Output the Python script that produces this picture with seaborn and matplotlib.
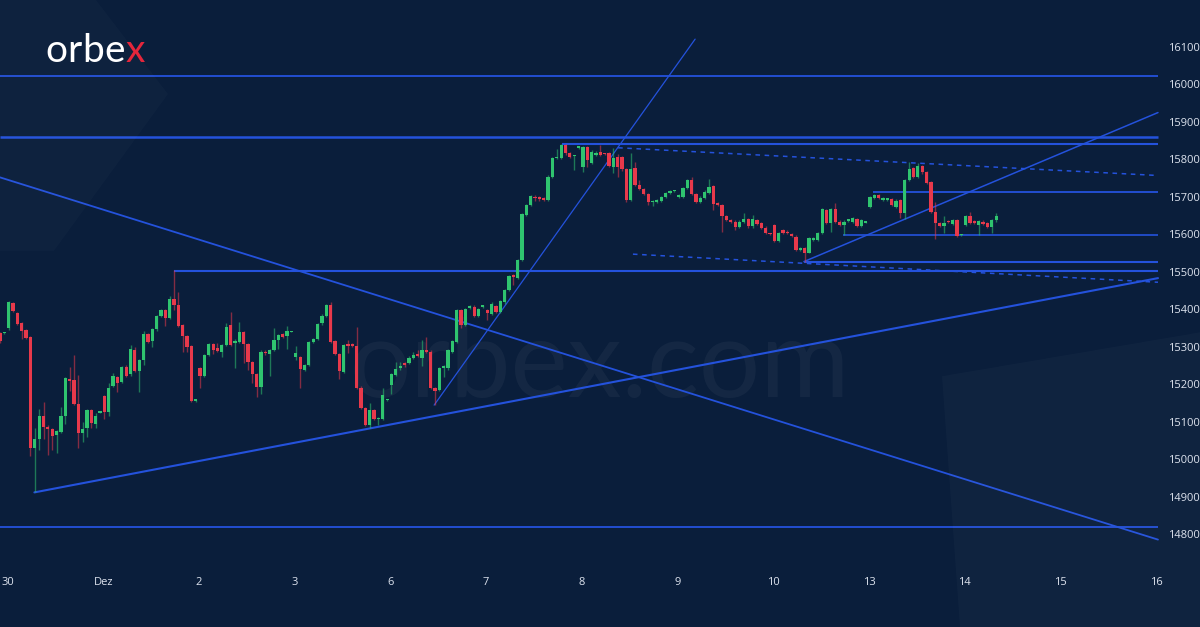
import numpy as np
import pandas as pd
import seaborn as sns
import matplotlib
matplotlib.use("Agg")
from matplotlib import pyplot as plt
from matplotlib.patches import Polygon

# hourly candles, GER index, 30 Nov - 14 Dec
opens = [
    15336, 15336, 15349, 15417, 15389, 15362, 15345, 15325, 15030, 15053,
    15115, 15086, 15079, 15064, 15073, 15114, 15214, 15211, 15147, 15069,
    15084, 15131, 15093, 15124, 15168, 15126, 15195, 15218, 15207, 15247,
    15226, 15291, 15234, 15264, 15334, 15316, 15346, 15382, 15398, 15376,
    15426, 15411, 15358, 15329, 15302, 15155, 15242, 15222, 15278, 15307,
    15296, 15287, 15304, 15357, 15309, 15313, 15338, 15307, 15260, 15226,
    15193, 15287, 15280, 15291, 15318, 15333, 15329, 15339, 15273, 15273,
    15238, 15251, 15312, 15320, 15362, 15382, 15411, 15316, 15280, 15232,
    15305, 15306, 15302, 15191, 15135, 15091, 15131, 15106, 15107, 15157,
    15198, 15224, 15242, 15256, 15257, 15271, 15280, 15271, 15290, 15287,
    15190, 15184, 15244, 15242, 15287, 15313, 15398, 15358, 15404, 15407,
    15382, 15406, 15398, 15387, 15409, 15393, 15418, 15452, 15491, 15484,
    15532, 15652, 15678, 15700, 15699, 15696, 15692, 15754, 15803, 15804,
    15838, 15816, 15808, 15831, 15780, 15832, 15790, 15812, 15821, 15816,
    15816, 15780, 15806, 15806, 15773, 15692, 15776, 15732, 15720, 15708,
    15686, 15687, 15689, 15700, 15711, 15715, 15700, 15700, 15723, 15745,
    15707, 15687, 15696, 15711, 15729, 15683, 15678, 15649, 15638, 15634,
    15619, 15634, 15640, 15621, 15638, 15629, 15618, 15602, 15625, 15583,
    15611, 15607, 15601, 15594, 15558, 15564, 15551, 15585, 15585, 15604,
    15665, 15631, 15667, 15634, 15625, 15636, 15634, 15640, 15623, 15631,
    15672, 15698, 15705, 15692, 15692, 15693, 15674, 15692, 15656, 15745,
    15776, 15754, 15781, 15767, 15739, 15660, 15631, 15622, 15634, 15627,
    15638, 15597, 15625, 15649, 15636, 15625, 15634, 15631, 15619, 15637,
]
highs = [
    15340, 15339, 15423, 15420, 15392, 15365, 15348, 15328, 15084, 15134,
    15153, 15090, 15082, 15078, 15138, 15220, 15246, 15278, 15224, 15100,
    15134, 15134, 15124, 15128, 15172, 15202, 15229, 15221, 15249, 15250,
    15305, 15298, 15267, 15343, 15337, 15349, 15385, 15401, 15401, 15434,
    15505, 15447, 15361, 15332, 15305, 15158, 15245, 15281, 15310, 15310,
    15309, 15307, 15362, 15392, 15320, 15367, 15341, 15310, 15263, 15229,
    15290, 15290, 15294, 15349, 15334, 15336, 15354, 15342, 15301, 15276,
    15254, 15316, 15323, 15364, 15386, 15414, 15420, 15319, 15283, 15307,
    15318, 15309, 15352, 15194, 15138, 15149, 15134, 15112, 15189, 15160,
    15231, 15260, 15260, 15259, 15274, 15287, 15290, 15318, 15327, 15290,
    15193, 15245, 15251, 15293, 15318, 15401, 15401, 15404, 15412, 15410,
    15404, 15410, 15401, 15418, 15412, 15424, 15455, 15492, 15494, 15535,
    15656, 15681, 15706, 15705, 15703, 15699, 15757, 15807, 15827, 15841,
    15841, 15819, 15813, 15835, 15835, 15835, 15824, 15822, 15838, 15818,
    15819, 15830, 15815, 15809, 15776, 15816, 15794, 15745, 15723, 15711,
    15692, 15695, 15703, 15714, 15719, 15719, 15708, 15726, 15748, 15752,
    15710, 15701, 15717, 15747, 15732, 15686, 15681, 15652, 15641, 15637,
    15637, 15656, 15643, 15651, 15641, 15632, 15621, 15604, 15628, 15607,
    15614, 15612, 15604, 15597, 15566, 15567, 15592, 15594, 15607, 15670,
    15668, 15670, 15684, 15637, 15637, 15640, 15646, 15643, 15641, 15633,
    15703, 15708, 15708, 15699, 15696, 15696, 15693, 15695, 15748, 15794,
    15779, 15790, 15784, 15770, 15742, 15687, 15634, 15649, 15637, 15641,
    15641, 15600, 15652, 15660, 15639, 15639, 15637, 15634, 15641, 15656,
]
lows = [
    15310, 15335, 15345, 15392, 15358, 15320, 15320, 15007, 14911, 15025,
    15053, 15011, 15024, 15017, 15070, 15093, 15181, 15145, 15030, 15046,
    15060, 15083, 15083, 15122, 15106, 15114, 15192, 15180, 15204, 15219,
    15223, 15232, 15180, 15251, 15310, 15298, 15343, 15379, 15355, 15373,
    15398, 15353, 15287, 15287, 15152, 15153, 15189, 15219, 15275, 15280,
    15286, 15272, 15301, 15301, 15242, 15310, 15256, 15238, 15202, 15166,
    15173, 15279, 15222, 15288, 15293, 15322, 15293, 15338, 15264, 15191,
    15235, 15248, 15309, 15317, 15359, 15379, 15310, 15277, 15213, 15229,
    15283, 15299, 15186, 15134, 15088, 15082, 15103, 15091, 15104, 15156,
    15175, 15221, 15239, 15247, 15254, 15268, 15272, 15249, 15284, 15186,
    15144, 15181, 15220, 15239, 15284, 15310, 15349, 15355, 15401, 15379,
    15379, 15404, 15371, 15384, 15390, 15390, 15415, 15449, 15465, 15481,
    15529, 15649, 15675, 15690, 15690, 15689, 15689, 15751, 15800, 15801,
    15813, 15804, 15772, 15829, 15767, 15780, 15787, 15808, 15809, 15812,
    15779, 15763, 15754, 15770, 15687, 15689, 15729, 15717, 15705, 15678,
    15676, 15684, 15686, 15697, 15708, 15713, 15697, 15697, 15720, 15704,
    15684, 15684, 15693, 15708, 15665, 15675, 15607, 15635, 15631, 15611,
    15616, 15631, 15618, 15618, 15624, 15613, 15600, 15598, 15580, 15580,
    15601, 15600, 15593, 15555, 15555, 15527, 15549, 15582, 15582, 15601,
    15628, 15607, 15631, 15622, 15598, 15634, 15631, 15620, 15620, 15630,
    15669, 15695, 15693, 15689, 15690, 15675, 15671, 15643, 15640, 15742,
    15751, 15751, 15762, 15735, 15657, 15587, 15619, 15603, 15630, 15624,
    15592, 15596, 15622, 15628, 15628, 15598, 15624, 15616, 15603, 15634,
]
closes = [
    15315, 15338, 15418, 15395, 15360, 15342, 15324, 15030, 15053, 15115,
    15086, 15079, 15062, 15075, 15114, 15216, 15209, 15147, 15070, 15080,
    15131, 15095, 15115, 15126, 15126, 15191, 15222, 15202, 15245, 15222,
    15293, 15235, 15264, 15334, 15313, 15346, 15382, 15398, 15376, 15427,
    15411, 15356, 15329, 15298, 15155, 15156, 15222, 15278, 15307, 15291,
    15289, 15304, 15353, 15304, 15316, 15338, 15307, 15260, 15226, 15193,
    15287, 15282, 15291, 15318, 15331, 15325, 15342, 15341, 15284, 15240,
    15251, 15313, 15320, 15361, 15383, 15411, 15313, 15280, 15234, 15304,
    15303, 15302, 15189, 15137, 15091, 15131, 15106, 15109, 15171, 15159,
    15228, 15240, 15249, 15250, 15271, 15277, 15275, 15290, 15287, 15189,
    15183, 15242, 15246, 15290, 15315, 15398, 15358, 15401, 15409, 15382,
    15401, 15408, 15389, 15414, 15393, 15421, 15452, 15489, 15487, 15532,
    15653, 15678, 15703, 15696, 15694, 15692, 15754, 15803, 15807, 15838,
    15816, 15807, 15810, 15833, 15832, 15798, 15821, 15818, 15812, 15814,
    15782, 15803, 15779, 15773, 15692, 15773, 15732, 15720, 15708, 15685,
    15689, 15692, 15700, 15711, 15716, 15717, 15705, 15723, 15745, 15707,
    15687, 15698, 15714, 15727, 15681, 15678, 15649, 15638, 15634, 15619,
    15634, 15640, 15621, 15640, 15627, 15616, 15603, 15600, 15583, 15604,
    15604, 15603, 15596, 15558, 15563, 15551, 15589, 15591, 15604, 15667,
    15631, 15667, 15634, 15625, 15634, 15638, 15643, 15623, 15638, 15632,
    15700, 15705, 15696, 15696, 15694, 15678, 15690, 15656, 15745, 15775,
    15754, 15782, 15765, 15738, 15660, 15631, 15622, 15631, 15632, 15638,
    15595, 15599, 15649, 15631, 15631, 15636, 15627, 15619, 15638, 15650,
]

day_labels = ["30", "Dez", "2", "3", "6", "7", "8", "9", "10", "13", "14", "15", "16"]
price_ticks = list(range(14800, 16101, 100))

# horizontal levels: price, first candle
level_prices = [16023, 15860, 15842, 15713, 15598, 15526, 15503, 14818]
level_starts = [0, 0, 129.2, 200.7, 193.8, 184.8, 40.1, 0]
level_widths = [1.3, 1.8, 1.5, 1.3, 1.2, 1.5, 1.5, 1.3]

# trend lines: (candle, price) -> (candle, price)
trend_x0 = [0, 7.9, 99.8, 184.8]
trend_y0 = [15752, 14911, 15144, 15527]
trend_x1 = [266.2, 266.2, 159.8, 266.2]
trend_y1 = [14785, 15483, 16121, 15925]
trend_widths = [1.3, 1.5, 0.9, 1.1]

# dashed channel
dash_x0 = [142.1, 145.5]
dash_y0 = [15831, 15547]
dash_x1 = [266.2, 266.2]
dash_y1 = [15757, 15472]

BG = "#0a1e3b"
GREEN = "#2fc46f"
RED = "#e8394b"
BLUE = "#2452dc"
TXT = "#dde3ee"

sns.set_theme(style="dark", rc={
    "axes.facecolor": BG,
    "figure.facecolor": BG,
    "axes.grid": False,
})
plt.rcParams["font.family"] = ["Open Sans", "DejaVu Sans"]

df = pd.DataFrame({"open": opens, "high": highs, "low": lows, "close": closes})
df["idx"] = np.arange(len(df))
df["color"] = np.where(df["close"] >= df["open"], GREEN, RED)
body_low = df[["open", "close"]].min(axis=1)
body_h = (df["close"] - df["open"]).abs().clip(lower=4)

fig = plt.figure(figsize=(12, 6.27), dpi=100)
ax = fig.add_axes([0, 67 / 627, 1160 / 1200, 560 / 627])
ax.set_facecolor(BG)

# faint background shapes
fig.patches.append(Polygon([(0, 1), (0.08, 1), (0.14, 0.85), (0.045, 0.6), (0, 0.6)],
                           closed=True, transform=fig.transFigure, color="white",
                           alpha=0.02, lw=0, zorder=0))
fig.patches.append(Polygon([(0.785, 0.40), (1, 0.47), (1, 0), (0.8, 0)],
                           closed=True, transform=fig.transFigure, color="white",
                           alpha=0.025, lw=0, zorder=0))

# watermark
ax.text(0.5, 0.415, "orbex.com", transform=fig.transFigure, ha="center", va="center",
        fontsize=78, color="white", alpha=0.045, family="Lato", zorder=1)

for p, s, w in zip(level_prices, level_starts, level_widths):
    ax.hlines(p, s, 266.2, color=BLUE, lw=w, zorder=2)
for x0, y0, x1, y1, w in zip(trend_x0, trend_y0, trend_x1, trend_y1, trend_widths):
    ax.plot([x0, x1], [y0, y1], color=BLUE, lw=w, zorder=2)
for x0, y0, x1, y1 in zip(dash_x0, dash_y0, dash_x1, dash_y1):
    ax.plot([x0, x1], [y0, y1], color=BLUE, lw=1.1, ls=(0, (3, 3)), zorder=2)

ax.vlines(df["idx"], df["low"], df["high"], colors=df["color"], lw=1, alpha=0.55, zorder=3)
ax.bar(df["idx"], body_h, bottom=body_low, width=0.74, color=df["color"], lw=0, zorder=4)

ax.set_xlim(0, 1160 / 4.35)
ax.set_ylim(16100 - 513 / 0.3746, 16100 + 47 / 0.3746)

ticks_x = [1.75 + 22 * k for k in range(len(day_labels))]
ax.set_xticks(ticks_x)
ax.set_xticklabels(day_labels)
ax.yaxis.tick_right()
ax.set_yticks(price_ticks)
ax.set_yticklabels([str(t) for t in price_ticks])
ax.tick_params(axis="x", length=0, pad=12, labelsize=8, labelcolor=TXT)
ax.tick_params(axis="y", length=0, pad=6, labelsize=8, labelcolor=TXT)
sns.despine(ax=ax, left=True, bottom=True, right=True, top=True)

# logo, letters slightly spaced
fig.canvas.draw()
x_px = 45
for ch in "orbex":
    col = "#e5263b" if ch == "x" else "white"
    t = fig.text(x_px / 1200, 1 - 62 / 627, ch, fontsize=28, color=col,
                 family="Lato", ha="left", va="baseline")
    fig.canvas.draw()
    x_px = t.get_window_extent().x1 + 0.5

fig.savefig("out.png", dpi=100, facecolor=BG)
